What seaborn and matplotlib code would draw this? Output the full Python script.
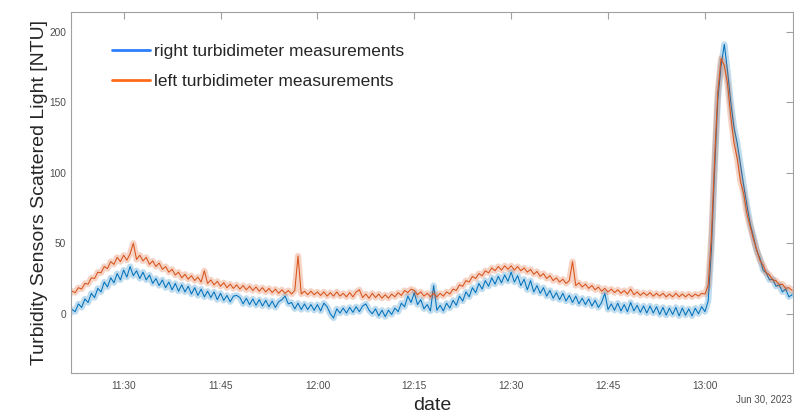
import numpy as np
import pandas as pd
import matplotlib
matplotlib.use("Agg")
import matplotlib.pyplot as plt
import matplotlib.dates as mdates
from matplotlib.lines import Line2D
import seaborn as sns

# sensor log, one sample every 30 s starting 11:21:30
start_time = "2023-06-30 11:21:30"
sample_step = "30s"

right_ntu = [
    -1.5, 3.0, 1.5, 7.0, 4.5, 10.5, 8.0, 14.5, 11.5, 18.0,
    15.5, 22.5, 19.0, 25.5, 22.0, 28.5, 24.0, 31.0, 26.0, 33.5,
    27.0, 30.5, 25.0, 29.5, 24.0, 27.5, 21.5, 25.0, 20.0, 24.0,
    18.5, 22.5, 17.0, 21.5, 16.0, 20.5, 15.5, 19.5, 14.0, 18.5,
    13.0, 17.5, 12.0, 16.0, 11.5, 15.5, 10.0, 14.5, 9.5, 13.0,
    8.5, 12.5, 13.0, 11.5, 7.0, 11.0, 6.5, 10.5, 6.0, 10.0,
    5.5, 9.5, 5.0, 9.0, 4.5, 8.5, 10.0, 12.5, 7.0, 8.0,
    3.5, 7.5, 3.0, 7.0, 3.0, 6.5, 2.5, 6.5, 2.0, 7.5,
    5.0, 0.0, -3.0, 3.5, 0.5, 4.0, 0.5, 4.5, 1.0, 5.0,
    1.5, 5.5, 7.0, 2.5, 0.0, 3.5, -1.5, 2.5, -2.0, 2.5,
    -0.5, 4.0, 1.5, 7.5, 5.0, 12.5, 8.0, 15.0, 6.5, 10.0,
    3.5, 6.5, 2.0, 20.0, 2.5, 6.0, 2.0, 7.5, 4.0, 9.5,
    6.0, 12.5, 9.0, 15.5, 12.0, 18.5, 15.0, 21.5, 17.5, 23.5,
    19.5, 25.5, 21.0, 26.5, 22.0, 27.5, 23.0, 29.5, 22.5, 27.0,
    20.0, 24.5, 17.0, 23.5, 15.5, 20.0, 14.5, 18.5, 12.5, 16.5,
    11.0, 15.0, 10.0, 14.5, 9.0, 13.0, 8.0, 12.5, 7.0, 11.0,
    6.5, 10.5, 5.5, 9.5, 4.5, 8.0, 14.5, 3.0, 7.0, 2.5,
    7.5, 2.0, 6.5, 1.5, 8.0, 2.0, 6.0, 1.0, 5.5, 0.5,
    5.5, 0.5, 5.0, -0.5, 4.5, -1.0, 4.0, -0.5, 4.5, -1.5,
    4.0, -1.0, 3.5, -1.5, 4.0, 0.0, 5.0, 1.5, 9.0, 45.0,
    102.0, 152.0, 176.0, 191.0, 172.0, 150.0, 132.0, 121.0, 106.0, 91.0,
    77.0, 64.0, 55.0, 45.0, 39.5, 31.0, 29.0, 24.0, 24.5, 19.5,
    20.5, 15.5, 17.5, 12.0, 13.5,
]

left_ntu = [
    13.0, 16.0, 15.0, 18.5, 17.5, 21.5, 21.0, 25.5, 25.0, 29.5,
    29.0, 33.5, 32.0, 37.0, 35.0, 40.0, 37.0, 41.5, 38.0, 42.5,
    50.0, 38.5, 41.5, 37.5, 40.0, 35.0, 37.5, 33.5, 36.0, 31.5,
    33.5, 29.5, 31.5, 27.5, 29.5, 25.5, 28.0, 24.5, 27.0, 23.5,
    26.0, 22.5, 30.5, 21.5, 24.0, 20.5, 23.0, 19.5, 22.0, 18.5,
    21.0, 18.0, 20.5, 17.5, 20.0, 17.0, 19.5, 16.5, 19.0, 16.0,
    18.5, 15.5, 18.0, 15.0, 17.5, 14.5, 17.0, 14.5, 16.5, 14.0,
    16.5, 41.0, 14.0, 16.0, 13.5, 16.0, 13.5, 15.5, 13.0, 15.5,
    12.5, 15.0, 12.5, 15.5, 12.5, 14.5, 12.0, 15.0, 12.0, 15.5,
    17.0, 11.5, 14.0, 11.0, 14.5, 11.5, 14.0, 11.0, 13.5, 11.0,
    14.0, 12.0, 15.0, 13.0, 16.5, 15.0, 17.5, 16.5, 13.5, 15.5,
    12.5, 14.5, 12.0, 14.5, 12.0, 14.5, 12.5, 15.5, 14.0, 17.5,
    16.5, 20.5, 19.5, 23.5, 22.5, 26.5, 25.0, 28.5, 27.0, 30.5,
    29.0, 32.5, 30.5, 33.5, 31.0, 34.0, 31.5, 34.0, 31.0, 33.5,
    30.5, 32.5, 29.5, 31.5, 28.0, 30.0, 26.5, 28.5, 25.0, 27.0,
    23.5, 25.5, 22.5, 24.5, 21.5, 23.5, 37.0, 20.0, 22.0, 19.0,
    21.0, 18.0, 20.0, 17.0, 19.0, 16.0, 18.0, 15.5, 17.5, 15.0,
    17.0, 14.5, 16.5, 14.0, 17.5, 13.5, 15.5, 13.0, 15.0, 13.0,
    15.0, 12.5, 14.5, 12.5, 14.5, 12.0, 14.0, 12.0, 14.5, 12.0,
    14.0, 12.0, 14.0, 12.0, 14.0, 12.5, 14.5, 14.0, 20.0, 55.0,
    110.0, 158.0, 181.0, 176.0, 163.0, 140.0, 121.0, 110.0, 94.0, 85.0,
    71.0, 62.0, 53.0, 45.5, 38.0, 34.5, 29.0, 27.5, 24.0, 23.5,
    20.5, 21.0, 18.0, 18.5, 16.5,
]

series_labels = ["right turbidimeter measurements", "left turbidimeter measurements"]
y_ticks = [0, 50, 100, 150, 200]


def main():
    sns.set_style("white")
    plt.rcParams["font.family"] = ["Liberation Sans", "DejaVu Sans"]

    times = pd.date_range(start_time, periods=len(right_ntu), freq=sample_step)
    df = pd.DataFrame({"date": times, "right": right_ntu, "left": left_ntu})

    fig = plt.figure(figsize=(7.94, 4.18), dpi=100)
    ax = fig.add_axes([0.0894, 0.1077, 0.9096, 0.8636])

    line_colors = {"right": "#0072BD", "left": "#D95319"}
    for col in ["right", "left"]:
        # wide faint pass to mimic the dense noise band, then the trace itself
        sns.lineplot(data=df, x="date", y=col, color=line_colors[col], lw=4.5,
                     alpha=0.25, ax=ax, legend=False)
        sns.lineplot(data=df, x="date", y=col, color=line_colors[col], lw=0.75,
                     ax=ax, legend=False)

    ax.set_xlim(pd.Timestamp("2023-06-30 11:21:51"), pd.Timestamp("2023-06-30 13:13:40"))
    ax.set_ylim(-42, 214)
    ax.set_yticks(y_ticks)
    ax.xaxis.set_major_locator(mdates.MinuteLocator(byminute=[0, 15, 30, 45]))
    ax.xaxis.set_major_formatter(mdates.DateFormatter("%H:%M"))

    ax.tick_params(direction="in", length=5, width=0.8, colors="#a0a0a0",
                   labelcolor="#4d4d4d", labelsize=7.3, top=True, right=True)
    ax.tick_params(axis="x", pad=6)
    ax.tick_params(axis="y", pad=3.5)
    for s in ax.spines.values():
        s.set_color("#a0a0a0")
        s.set_linewidth(0.8)

    ax.set_xlabel("date", fontsize=14, color="#262626", labelpad=4)
    ax.set_ylabel("Turbidity Sensors Scattered Light [NTU]", fontsize=14,
                  color="#262626", labelpad=1)
    fig.text(0.997, 0.045, "Jun 30, 2023", ha="right", va="center",
             fontsize=7, color="#4d4d4d")

    handles = [Line2D([], [], color="#2b7fff", lw=2),
               Line2D([], [], color="#ff6a1a", lw=2)]
    ax.legend(handles, series_labels, loc="upper left", bbox_to_anchor=(0.035, 0.956),
              frameon=False, fontsize=12.5, handlelength=2.2, handletextpad=0.2,
              labelspacing=0.9)

    fig.savefig("out.png", dpi=100)
    plt.close(fig)


if __name__ == "__main__":
    main()
